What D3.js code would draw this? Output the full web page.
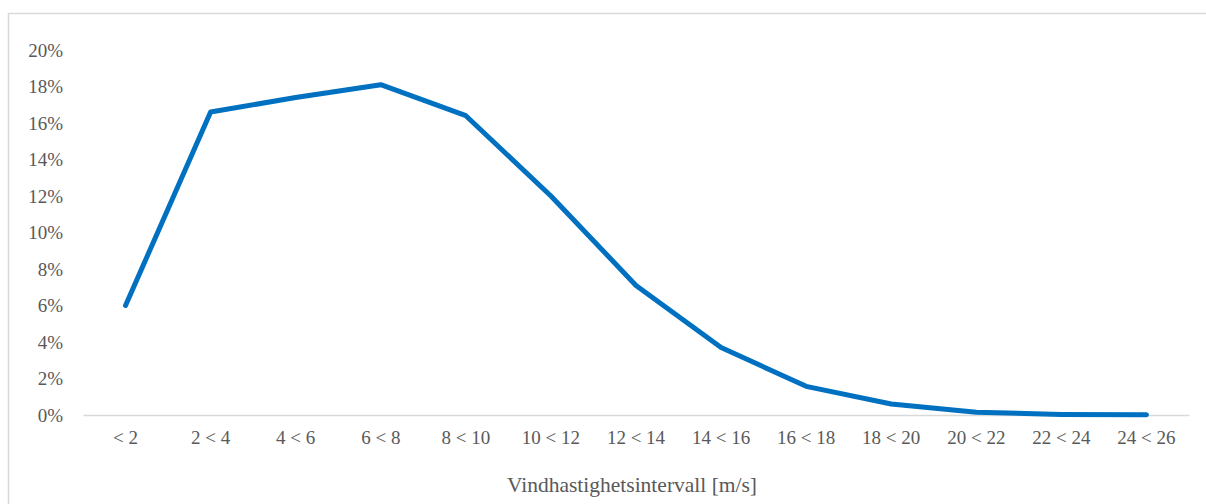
<!DOCTYPE html>
<html>
<head>
<meta charset="utf-8">
<script src="https://cdn.jsdelivr.net/npm/d3@7"></script>
<style>
html,body{margin:0;padding:0;background:#fff;overflow:hidden;}
svg{display:block;}
svg text{font-family:"Liberation Serif","DejaVu Serif",serif;}
</style>
</head>
<body>
<svg id="chart" width="1206" height="504"></svg>
<script>
const categories = ["< 2","2 < 4","4 < 6","6 < 8","8 < 10","10 < 12","12 < 14","14 < 16","16 < 18","18 < 20","20 < 22","22 < 24","24 < 26"];
const values = [0.060, 0.166, 0.174, 0.181, 0.164, 0.120, 0.071, 0.037, 0.0157, 0.006, 0.0015, 0.0003, 0.0001];
const yTicks = [0, 0.02, 0.04, 0.06, 0.08, 0.10, 0.12, 0.14, 0.16, 0.18, 0.20];
const xTitle = "Vindhastighetsintervall [m/s]";

const svg = d3.select("#chart");
const textColor = "#595959";

svg.append("rect").attr("x",8.5).attr("y",13.5).attr("width",1210).attr("height",510)
  .attr("fill","#fff").attr("stroke","#D9D9D9").attr("stroke-width",1.5);

const x = d3.scaleBand().domain(categories).range([83,1189]);
const y = d3.scaleLinear().domain([0,0.20]).range([415,50]);

// y axis labels
const yAxis = d3.axisLeft(y).tickValues(yTicks).tickFormat(d3.format(".0%")).tickSize(0).tickPadding(0);
const gy = svg.append("g").attr("transform","translate(63,0)").call(yAxis);
gy.attr("font-family",null).attr("font-size",null);
gy.select(".domain").remove();
gy.selectAll("text").style("font-size","19px").attr("fill",textColor);

// x axis
const xAxis = d3.axisBottom(x).tickSize(0).tickPadding(16);
const gx = svg.append("g").attr("transform",`translate(0,${y(0)})`).call(xAxis);
gx.attr("font-family",null).attr("font-size",null);
gx.select(".domain").attr("stroke","#D9D9D9").attr("stroke-width",1.5);
gx.selectAll("text").style("font-size","19px").attr("fill",textColor);

// line
const line = d3.line()
  .x((d,i)=>x(categories[i]) + x.bandwidth()/2)
  .y(d=>y(d));
svg.append("path").datum(values).attr("d",line)
  .attr("fill","none").attr("stroke","#0070C0").attr("stroke-width",5)
  .attr("stroke-linejoin","round").attr("stroke-linecap","round");

// x title
svg.append("text").attr("x",632).attr("y",492).attr("text-anchor","middle")
  .style("font-size","21.5px").attr("fill",textColor).text(xTitle);
</script>
</body>
</html>
